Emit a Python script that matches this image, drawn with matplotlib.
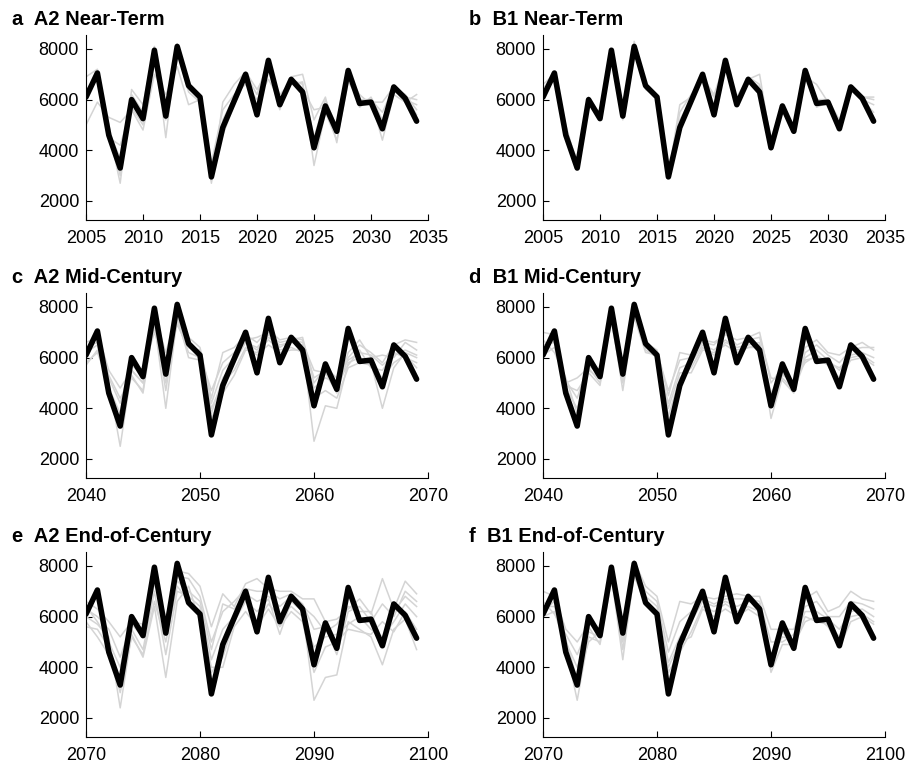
import numpy as np
import matplotlib.pyplot as plt

plt.rcParams['font.family'] = ['Liberation Sans', 'DejaVu Sans']

# observed annual series (hundreds), repeated over each 30-year window
observed = [61, 70.5, 46, 33, 60, 52.5, 79.5, 53.5, 81, 65.5, 61, 29.5, 49, 59.5, 70,
            54, 75.5, 58, 68, 63, 41, 57.5, 47.5, 71.5, 58.5, 59, 48.5, 65, 60.5, 51.5]

# ensemble members per panel (hundreds)
members_a = [
    [50, 59, 53, 51, 56, 48, 70, 62, 73, 58, 60, 35, 56, 62, 66, 60, 68, 60, 66, 67, 34, 55, 44, 67, 60, 60, 44, 62, 59, 62],
    [69, 72, 48, 27, 64, 58, 81, 45, 82, 66, 62, 27, 59, 66, 71, 64, 72, 56, 69, 70, 52, 61, 43, 70, 62, 58, 50, 63, 62, 56],
    [64, 68, 45, 42, 57, 50, 77, 58, 79, 63, 59, 32, 46, 58, 68, 57, 73, 62, 67, 64, 56, 57, 50, 72, 57, 61, 52, 64, 60, 58],
    [60, 71, 47, 37, 62, 55, 80, 55, 80, 66, 60, 30, 52, 61, 70, 62, 76, 59, 68, 66, 45, 60, 49, 71, 59, 60, 55, 65, 61, 60],
    [62, 69, 50, 30, 59, 53, 78, 52, 81, 64, 61, 28, 48, 60, 69, 55, 74, 57, 67, 62, 43, 58, 48, 70, 58, 59, 59, 65, 62, 54],
]
members_b = [
    [66, 70, 48, 36, 60, 53, 78, 54, 80, 65, 60, 30, 58, 61, 69, 61, 73, 60, 68, 70, 43, 58, 48, 69, 66, 59, 50, 64, 61, 60],
    [63, 71, 50, 34, 61, 54, 79, 55, 83, 66, 61, 31, 52, 60, 70, 58, 74, 61, 69, 66, 45, 57, 47, 70, 60, 60, 52, 65, 60, 58],
    [60, 69, 45, 33, 59, 52, 80, 52, 81, 64, 61, 29, 49, 59, 70, 55, 75, 59, 67, 64, 42, 58, 47, 71, 57, 59, 49, 65, 61, 53],
    [62, 70, 47, 35, 61, 53, 79, 54, 81, 65, 61, 30, 55, 62, 69, 62, 75, 58, 68, 65, 44, 57, 48, 70, 59, 60, 51, 65, 61, 61],
    [64, 71, 46, 33, 60, 53, 80, 53, 82, 66, 61, 30, 50, 60, 70, 56, 76, 58, 68, 63, 42, 58, 48, 71, 58, 59, 49, 65, 60, 55],
]
members_c = [
    [58, 62, 50, 25, 55, 50, 74, 40, 76, 64, 62, 38, 52, 58, 66, 63, 68, 65, 66, 65, 27, 41, 40, 58, 60, 58, 40, 56, 62, 60],
    [66, 68, 53, 44, 52, 47, 77, 62, 78, 68, 64, 44, 62, 64, 69, 66, 71, 67, 68, 67, 52, 55, 48, 62, 67, 60, 61, 60, 66, 63],
    [62, 65, 48, 38, 57, 53, 72, 50, 74, 62, 60, 40, 50, 55, 64, 61, 65, 62, 63, 63, 48, 52, 50, 57, 63, 56, 55, 62, 60, 58],
    [60, 70, 55, 48, 55, 50, 78, 55, 80, 66, 61, 47, 58, 62, 67, 68, 70, 64, 67, 66, 55, 54, 46, 60, 65, 62, 58, 65, 67, 66],
    [64, 66, 47, 34, 53, 46, 75, 47, 76, 60, 59, 36, 46, 53, 63, 62, 67, 63, 64, 62, 44, 47, 44, 56, 58, 57, 52, 58, 61, 56],
    [57, 63, 52, 42, 58, 55, 70, 58, 73, 64, 63, 42, 55, 60, 66, 64, 69, 66, 67, 68, 50, 56, 52, 59, 62, 61, 57, 61, 63, 61],
]
members_d = [
    [61, 64, 50, 52, 56, 50, 76, 47, 77, 64, 61, 37, 52, 56, 64, 61, 66, 64, 65, 66, 36, 52, 47, 59, 60, 57, 52, 59, 60, 57],
    [70, 69, 48, 40, 55, 52, 78, 55, 80, 66, 63, 45, 62, 61, 67, 66, 69, 67, 68, 70, 50, 56, 50, 64, 67, 62, 61, 64, 66, 63],
    [65, 66, 51, 44, 58, 54, 75, 52, 78, 63, 60, 42, 56, 58, 65, 63, 67, 63, 64, 65, 46, 54, 48, 60, 63, 59, 55, 61, 62, 60],
    [63, 67, 49, 47, 54, 49, 77, 57, 79, 65, 62, 47, 59, 60, 66, 65, 70, 65, 67, 68, 52, 51, 46, 62, 65, 61, 58, 63, 64, 64],
    [67, 62, 52, 38, 57, 53, 74, 50, 76, 62, 61, 40, 54, 54, 63, 62, 65, 62, 64, 64, 42, 53, 51, 58, 61, 58, 56, 60, 61, 58],
]
members_e = [
    [60, 57, 52, 24, 53, 44, 64, 36, 66, 72, 58, 38, 44, 58, 66, 62, 67, 53, 66, 62, 27, 36, 37, 58, 55, 52, 41, 55, 59, 47],
    [66, 63, 58, 52, 58, 57, 75, 58, 78, 77, 72, 56, 69, 64, 73, 75, 71, 70, 70, 67, 67, 58, 59, 63, 67, 61, 75, 63, 74, 69],
    [58, 52, 45, 35, 55, 47, 70, 45, 70, 68, 64, 43, 55, 60, 68, 58, 65, 60, 64, 60, 48, 52, 53, 57, 60, 55, 52, 58, 65, 60],
    [63, 60, 55, 44, 57, 52, 77, 54, 76, 75, 68, 50, 62, 66, 71, 70, 70, 67, 69, 65, 55, 56, 45, 62, 64, 58, 65, 60, 70, 66],
    [56, 55, 48, 30, 52, 45, 66, 50, 72, 66, 60, 40, 40, 56, 62, 56, 63, 56, 62, 58, 38, 48, 50, 55, 54, 53, 58, 54, 62, 55],
    [64, 58, 50, 40, 59, 55, 73, 60, 74, 70, 66, 47, 65, 63, 69, 66, 68, 64, 68, 64, 60, 54, 57, 64, 62, 62, 50, 62, 68, 64],
]
members_f = [
    [60, 62, 48, 27, 52, 50, 76, 43, 78, 66, 62, 38, 46, 54, 64, 62, 65, 62, 64, 62, 38, 49, 49, 58, 60, 56, 48, 58, 60, 57],
    [70, 68, 55, 50, 57, 55, 79, 58, 82, 72, 68, 50, 66, 65, 68, 67, 68, 69, 68, 68, 55, 55, 55, 67, 70, 62, 64, 70, 67, 66],
    [64, 64, 50, 40, 54, 52, 77, 50, 79, 68, 64, 42, 52, 58, 66, 64, 66, 64, 66, 65, 44, 52, 51, 62, 62, 59, 55, 62, 63, 60],
    [66, 61, 53, 45, 56, 49, 74, 55, 80, 70, 66, 46, 58, 62, 67, 65, 67, 67, 67, 66, 50, 50, 53, 64, 66, 60, 60, 66, 65, 63],
    [62, 66, 51, 35, 50, 54, 78, 47, 76, 65, 61, 40, 50, 52, 63, 60, 63, 60, 63, 60, 42, 54, 48, 60, 58, 57, 52, 60, 61, 58],
]

titles = ["a  A2 Near-Term", "b  B1 Near-Term", "c  A2 Mid-Century",
          "d  B1 Mid-Century", "e  A2 End-of-Century", "f  B1 End-of-Century"]
start_years = [2005, 2005, 2040, 2040, 2070, 2070]
tick_step = [5, 5, 10, 10, 10, 10]
members = [members_a, members_b, members_c, members_d, members_e, members_f]

W, H = 907, 763
fig = plt.figure(figsize=(W / 100, H / 100), dpi=100)

lefts = [86, 543]
tops = [35, 293, 552]
ax_w, ax_h = 342, 185

for i in range(6):
    row, col = i // 2, i % 2
    left = lefts[col]
    top = tops[row]
    ax = fig.add_axes([left / W, 1 - (top + ax_h) / H, ax_w / W, ax_h / H])
    y0 = start_years[i]
    years = np.arange(y0, y0 + 30)
    for m in members[i]:
        ax.plot(years, np.array(m) * 100, color='#d4d4d4', lw=1.1)
    ax.plot(years, np.array(observed) * 100, color='black', lw=4.0,
            solid_joinstyle='round', solid_capstyle='round')
    ax.set_xlim(y0, y0 + 30)
    ax.set_ylim(1250, 8550)
    ax.set_xticks(np.arange(y0, y0 + 31, tick_step[i]))
    ax.set_yticks([2000, 4000, 6000, 8000])
    ax.spines['top'].set_visible(False)
    ax.spines['right'].set_visible(False)
    ax.tick_params(direction='in', length=4, labelsize=13, width=0.8)
    ax.tick_params(axis='x', pad=7)
    ax.tick_params(axis='y', pad=5)
    fig.text((left - 74) / W, 1 - (top - 10) / H, titles[i], fontsize=14.5,
             fontweight='bold', ha='left', va='baseline')

plt.savefig("out.png", dpi=100)
plt.close()
